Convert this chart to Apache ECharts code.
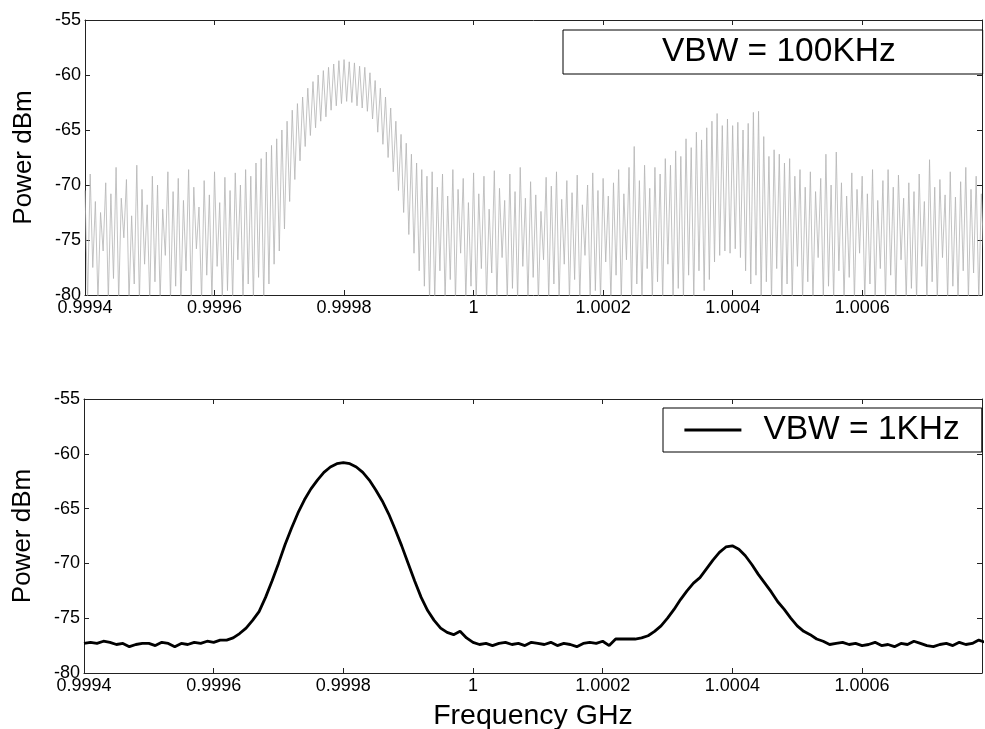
<!DOCTYPE html>
<html>
<head>
<meta charset="utf-8">
<title>VBW comparison</title>
<script src="https://cdn.jsdelivr.net/npm/echarts@6/dist/echarts.min.js"></script>
<style>
  html, body { margin: 0; padding: 0; background: #fff; }
  #chart { width: 985px; height: 729px; }
</style>
</head>
<body>
<div id="chart"></div>
<script>
// frequency axis (GHz)
const freqStart = 0.9994;
const freqEnd = 1.000785;
const freqTickStep = 0.0002;

// power axis (dBm)
const powerMin = -80;
const powerMax = -55;
const powerTickStep = 5;

const legendNames = ['VBW = 100KHz', 'VBW = 1KHz'];

// VBW = 100KHz trace, one reading every 4 kHz from freqStart
const vbw100kStep = 0.000004;
const vbw100kPower = [
  -70.5, -80.5, -69.0, -77.5, -71.5, -80.5, -72.5, -76.0, -69.8, -80.5,
  -70.8, -78.5, -68.4, -80.5, -71.2, -74.8, -69.5, -80.5, -72.8, -79.0,
  -68.2, -80.5, -70.4, -77.2, -71.8, -80.5, -69.2, -78.8, -70.0, -80.5,
  -72.2, -76.4, -68.8, -80.5, -70.6, -79.2, -69.4, -80.5, -71.4, -77.8,
  -68.6, -80.5, -70.2, -75.8, -72.0, -80.5, -69.6, -78.2, -70.9, -80.5,
  -68.8, -77.4, -71.6, -80.5, -69.3, -79.6, -70.5, -80.5, -68.9, -76.8,
  -70.0, -80.5, -68.6, -79.0, -69.2, -80.5, -68.0, -78.4, -67.6, -80.5,
  -67.0, -79.0, -66.4, -77.2, -65.8, -76.0, -65.0, -74.0, -64.2, -71.5,
  -63.2, -69.5, -62.6, -67.8, -62.0, -66.5, -61.2, -65.5, -60.6, -64.8,
  -60.0, -64.2, -59.6, -63.8, -59.3, -63.2, -59.0, -62.8, -58.7, -62.6,
  -58.6, -62.4, -58.8, -62.5, -58.9, -62.8, -59.2, -63.0, -59.3, -63.3,
  -59.8, -64.0, -60.5, -65.2, -61.2, -66.3, -62.0, -67.5, -63.0, -68.8,
  -64.2, -70.5, -65.4, -72.5, -66.2, -74.5, -67.2, -76.2, -68.0, -77.8,
  -68.6, -79.2, -69.2, -80.5, -68.8, -80.5, -70.2, -77.8, -69.0, -80.5,
  -71.0, -78.6, -68.6, -80.5, -70.4, -76.2, -69.4, -80.5, -71.6, -79.2,
  -68.9, -80.5, -70.8, -77.6, -69.2, -80.5, -72.2, -78.0, -68.7, -80.5,
  -70.3, -76.6, -71.4, -80.5, -69.0, -79.4, -70.6, -80.5, -68.4, -77.4,
  -71.2, -80.5, -69.7, -78.4, -70.9, -80.5, -72.4, -76.8, -69.3, -80.5,
  -70.1, -79.0, -68.8, -80.5, -71.3, -77.2, -69.6, -80.5, -70.7, -78.6,
  -69.1, -80.5, -71.8, -76.4, -70.0, -80.5, -68.9, -79.6, -70.5, -80.5,
  -69.4, -77.0, -71.0, -80.5, -69.8, -78.2, -68.6, -80.5, -70.8, -76.8,
  -68.4, -80.5, -66.5, -79.0, -69.6, -80.5, -68.2, -77.6, -70.3, -80.5,
  -68.4, -78.8, -69.0, -80.5, -67.6, -77.2, -68.2, -80.5, -66.9, -79.4,
  -67.4, -80.5, -65.8, -78.2, -66.6, -80.5, -65.2, -77.8, -65.9, -79.6,
  -64.8, -78.6, -64.2, -77.0, -63.5, -76.4, -64.6, -76.0, -64.0, -76.2,
  -64.6, -75.8, -64.3, -76.6, -65.0, -77.8, -64.4, -79.0, -63.4, -78.2,
  -63.3, -80.5, -65.6, -78.8, -67.4, -80.5, -66.8, -77.6, -67.2, -80.5,
  -68.0, -79.0, -67.6, -80.5, -69.2, -77.4, -68.6, -80.5, -70.2, -78.8,
  -68.8, -80.5, -70.6, -76.6, -69.4, -80.5, -67.2, -79.2, -70.0, -80.5,
  -67.0, -77.8, -69.8, -80.5, -71.0, -78.4, -68.9, -80.5, -70.4, -76.2,
  -69.2, -80.5, -70.8, -79.0, -68.6, -80.5, -71.4, -77.6, -69.6, -80.5,
  -68.6, -78.2, -70.2, -80.5, -69.1, -76.8, -71.2, -80.5, -69.8, -79.4,
  -70.6, -80.5, -69.0, -77.4, -71.5, -80.5, -67.7, -78.8, -70.2, -80.5,
  -69.5, -76.6, -70.9, -80.5, -68.8, -79.2, -71.1, -80.5, -69.7, -77.8,
  -68.4, -80.5, -70.4, -78.0, -69.2, -80.5, -70.8, -76.9, -68.7, -80.5
];

// VBW = 1KHz trace, one reading every 10 kHz from freqStart
const vbw1kStep = 0.00001;
const vbw1kPower = [
  -77.3, -77.2, -77.3, -77.1, -77.2, -77.4, -77.3, -77.6, -77.4, -77.3,
  -77.3, -77.5, -77.2, -77.3, -77.6, -77.3, -77.4, -77.2, -77.3, -77.1,
  -77.2, -77.0, -77.0, -76.8, -76.4, -75.9, -75.2, -74.4, -73.1, -71.6,
  -70.0, -68.3, -66.8, -65.4, -64.2, -63.2, -62.4, -61.7, -61.2, -60.9,
  -60.8, -60.9, -61.2, -61.7, -62.4, -63.3, -64.3, -65.5, -66.9, -68.4,
  -70.0, -71.6, -73.1, -74.3, -75.2, -75.9, -76.3, -76.5, -76.2, -76.8,
  -77.2, -77.4, -77.3, -77.5, -77.3, -77.2, -77.4, -77.3, -77.5, -77.2,
  -77.3, -77.4, -77.2, -77.5, -77.3, -77.4, -77.6, -77.3, -77.2, -77.3,
  -77.1, -77.5, -76.9, -76.9, -76.9, -76.9, -76.8, -76.6, -76.2, -75.7,
  -75.0, -74.2, -73.3, -72.5, -71.8, -71.3, -70.5, -69.7, -69.0, -68.5,
  -68.4, -68.7, -69.3, -70.1, -71.0, -71.8, -72.6, -73.5, -74.2, -75.0,
  -75.7, -76.2, -76.5, -76.9, -77.1, -77.4, -77.3, -77.2, -77.4, -77.3,
  -77.5, -77.4, -77.2, -77.5, -77.4, -77.6, -77.3, -77.4, -77.1, -77.3,
  -77.5, -77.6, -77.4, -77.3, -77.5, -77.2, -77.4, -77.3, -77.0, -77.2
];

const fontFamily = '"Liberation Sans", Arial, Helvetica, sans-serif';
const axisColor = '#222';

function toPairs(values, step) {
  return values.map((v, i) => [freqStart + i * step, v]);
}

function freqLabel(v) {
  return String(+v.toFixed(4));
}

function makeXAxes(gridIndex, name) {
  const base = {
    type: 'value',
    gridIndex: gridIndex,
    min: freqStart,
    max: freqEnd,
    interval: freqTickStep,
    splitLine: { show: false },
    axisLine: { show: true, onZero: false, lineStyle: { color: axisColor, width: 1 } },
    axisTick: { show: true, inside: true, length: 5, lineStyle: { color: axisColor } }
  };
  return [
    Object.assign({}, base, {
      position: 'bottom',
      name: name,
      nameLocation: 'middle',
      nameGap: 29,
      nameTextStyle: { fontSize: 28.5, fontFamily: fontFamily, color: '#000' },
      axisLabel: {
        show: true, margin: 4, fontSize: 18, fontFamily: fontFamily, color: '#000',
        showMaxLabel: false, formatter: freqLabel
      }
    }),
    Object.assign({}, base, { position: 'top', axisLabel: { show: false } })
  ];
}

function makeYAxes(gridIndex) {
  const base = {
    type: 'value',
    gridIndex: gridIndex,
    min: powerMin,
    max: powerMax,
    interval: powerTickStep,
    splitLine: { show: false },
    axisLine: { show: true, onZero: false, lineStyle: { color: axisColor, width: 1 } },
    axisTick: { show: true, inside: true, length: 5, lineStyle: { color: axisColor } }
  };
  return [
    Object.assign({}, base, {
      position: 'left',
      name: 'Power dBm',
      nameLocation: 'middle',
      nameGap: 48,
      nameTextStyle: { fontSize: 26, fontFamily: fontFamily, color: '#000' },
      axisLabel: { show: true, margin: 4, fontSize: 18, fontFamily: fontFamily, color: '#000' }
    }),
    Object.assign({}, base, { position: 'right', axisLabel: { show: false } })
  ];
}

const chart = echarts.init(document.getElementById('chart'), null, { renderer: 'canvas' });

chart.setOption({
  animation: false,
  backgroundColor: '#fff',
  grid: [
    { left: 85, top: 20, width: 897, height: 275, outerBoundsMode: 'none', containLabel: false },
    { left: 84, top: 399, width: 898, height: 274, outerBoundsMode: 'none', containLabel: false }
  ],
  xAxis: makeXAxes(0, '').concat(makeXAxes(1, 'Frequency GHz')),
  yAxis: makeYAxes(0).concat(makeYAxes(1)),
  legend: [
    {
      data: [legendNames[0]],
      left: 563, top: 30,
      padding: [5, 87, 5, 20],
      itemWidth: 57, itemHeight: 14,
      borderColor: '#000', borderWidth: 1, borderRadius: 0,
      backgroundColor: '#fff',
      selectedMode: false,
      lineStyle: { opacity: 0 },
      itemStyle: { opacity: 0 },
      textStyle: { fontSize: 33.5, lineHeight: 33, fontFamily: fontFamily, color: '#000', padding: [0, 0, 0, 16] }
    },
    {
      data: [legendNames[1]],
      left: 663, top: 408,
      padding: [5, 22, 5, 20],
      itemWidth: 57, itemHeight: 14,
      borderColor: '#000', borderWidth: 1, borderRadius: 0,
      backgroundColor: '#fff',
      selectedMode: false,
      itemStyle: { opacity: 0 },
      lineStyle: { width: 2.8, color: '#000' },
      textStyle: { fontSize: 33.5, lineHeight: 33, fontFamily: fontFamily, color: '#000', padding: [0, 0, 0, 17] }
    }
  ],
  series: [
    {
      name: legendNames[0],
      type: 'line',
      xAxisIndex: 0,
      yAxisIndex: 0,
      data: toPairs(vbw100kPower, vbw100kStep),
      showSymbol: false,
      symbol: 'none',
      lineStyle: { color: '#b4b4b4', width: 0.8 },
      itemStyle: { color: '#b4b4b4' }
    },
    {
      name: legendNames[1],
      type: 'line',
      xAxisIndex: 2,
      yAxisIndex: 2,
      data: toPairs(vbw1kPower, vbw1kStep),
      showSymbol: false,
      symbol: 'none',
      lineStyle: { color: '#000', width: 2.8 },
      itemStyle: { color: '#000' }
    }
  ]
});
</script>
</body>
</html>
